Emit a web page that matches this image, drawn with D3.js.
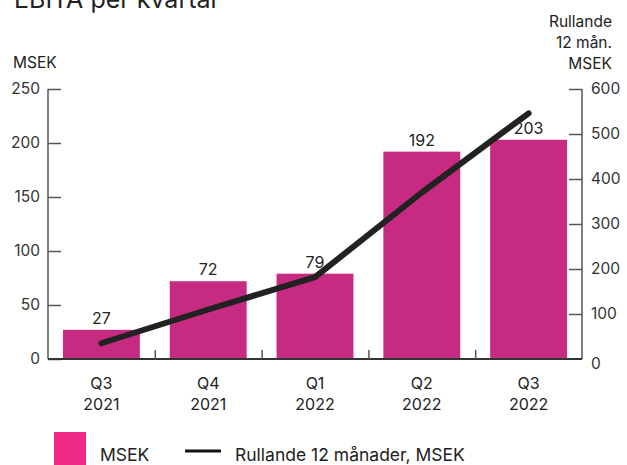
<!DOCTYPE html>
<html>
<head>
<meta charset="utf-8">
<script src="https://cdn.jsdelivr.net/npm/d3@7"></script>
<style>
  body { margin: 0; background: #fff; }
  svg text { font-family: Inter, "Open Sans", sans-serif; fill: #222; }
</style>
</head>
<body>
<script>
// data
const quarters = ["Q3", "Q4", "Q1", "Q2", "Q3"];
const years = ["2021", "2021", "2022", "2022", "2022"];
const ebita = [27, 72, 79, 192, 203];
const rolling = [35, 110, 182, 370, 546];
const leftTicks = [0, 50, 100, 150, 200, 250];
const rightTicks = [0, 100, 200, 300, 400, 500, 600];

const W = 627, H = 465;
const margin = { top: 89, right: 45, bottom: 106, left: 48 };
const width = W - margin.left - margin.right,
    height = H - margin.top - margin.bottom;

const svg = d3.select("body").append("svg")
    .attr("width", W)
    .attr("height", H);

// title, cut off at the top like in the source
svg.append("text")
    .attr("x", 14)
    .attr("y", 8)
    .style("font-size", "25px")
    .text("EBITA per kvartal");

svg.append("text")
    .attr("x", 13)
    .attr("y", 68)
    .style("font-size", "15.5px")
    .text("MSEK");

// right axis title
const rt = svg.append("text")
    .attr("text-anchor", "end")
    .style("font-size", "15.5px");
["Rullande", "12 mån.", "MSEK"].forEach((t, i) => {
    rt.append("tspan").attr("x", 612).attr("y", 27 + i * 21).text(t);
});

const g = svg.append("g")
    .attr("transform", "translate(" + margin.left + "," + margin.top + ")");

const idx = d3.range(quarters.length);

const x = d3.scaleBand()
    .domain(idx)
    .range([0, width])
    .paddingInner(0.28)
    .paddingOuter(0.14);

const band = d3.scaleBand().domain(idx).range([0, width]);

const y = d3.scaleLinear().domain([0, 250]).range([height, 0]);
const y2 = d3.scaleLinear().domain([0, 600]).range([height, 0]);

// bars
g.selectAll("rect.bar")
    .data(ebita)
    .enter()
    .append("rect")
    .attr("class", "bar")
    .attr("x", (d, i) => x(i))
    .attr("y", d => y(d))
    .attr("width", x.bandwidth())
    .attr("height", d => height - y(d))
    .attr("fill", "#c72b81");

// bar value labels
g.selectAll("text.val")
    .data(ebita)
    .enter()
    .append("text")
    .attr("class", "val")
    .attr("x", (d, i) => x(i) + x.bandwidth() / 2)
    .attr("y", d => y(d) - 6)
    .attr("text-anchor", "middle")
    .style("font-size", "16px")
    .text(d => d);

// left axis
const yAxis = g.append("g")
    .call(d3.axisRight(y).tickValues(leftTicks).tickSize(13).tickFormat(""));
yAxis.select(".domain").attr("stroke", "#555").attr("stroke-width", 1.5).attr("d", "M0," + height + "V0");
yAxis.selectAll(".tick line").attr("stroke", "#555").attr("stroke-width", 1.5);

g.selectAll("text.yl")
    .data(leftTicks)
    .enter()
    .append("text")
    .attr("class", "yl")
    .attr("x", -8)
    .attr("y", d => y(d) + 5)
    .attr("text-anchor", "end")
    .style("font-size", "15.5px")
    .style("fill", "#333")
    .text(d => d);

// right axis
const y2Axis = g.append("g")
    .attr("transform", "translate(" + width + ",0)")
    .call(d3.axisLeft(y2).tickValues(rightTicks).tickSize(13).tickFormat(""));
y2Axis.select(".domain").attr("stroke", "#555").attr("stroke-width", 1.5).attr("d", "M0," + height + "V0");
y2Axis.selectAll(".tick line").attr("stroke", "#555").attr("stroke-width", 1.5);
y2Axis.selectAll(".tick").filter(d => d === 0).remove();

g.selectAll("text.y2l")
    .data(rightTicks)
    .enter()
    .append("text")
    .attr("class", "y2l")
    .attr("x", width + 9)
    .attr("y", d => y2(d) + (d === 0 ? 10 : 5))
    .style("font-size", "15.5px")
    .style("fill", "#333")
    .text(d => d);

// bottom axis, ticks at category boundaries
const xAxis = g.append("g")
    .attr("transform", "translate(0," + height + ")")
    .call(d3.axisTop(d3.scaleLinear().domain([0, 5]).range([0, width]))
        .tickValues([1, 2, 3, 4]).tickSize(9).tickFormat(""));
xAxis.select(".domain").attr("stroke", "#333").attr("stroke-width", 2).attr("d", "M0,0H" + width);
xAxis.selectAll(".tick line").attr("stroke", "#555").attr("stroke-width", 1.5);

const xl = g.selectAll("text.xl")
    .data(idx)
    .enter()
    .append("text")
    .attr("class", "xl")
    .attr("text-anchor", "middle")
    .style("font-size", "16px");
xl.append("tspan")
    .attr("x", i => band(i) + band.bandwidth() / 2)
    .attr("y", height + 30)
    .text(i => quarters[i]);
xl.append("tspan")
    .attr("x", i => band(i) + band.bandwidth() / 2)
    .attr("y", height + 51)
    .text(i => years[i]);

// rolling 12 months line
const line = d3.line()
    .x((d, i) => band(i) + band.bandwidth() / 2)
    .y(d => y2(d));

g.append("path")
    .datum(rolling)
    .attr("d", line)
    .attr("fill", "none")
    .attr("stroke", "#222")
    .attr("stroke-width", 6)
    .attr("stroke-linecap", "round")
    .attr("stroke-linejoin", "round");

// legend
const lg = svg.append("g");
lg.append("rect")
    .attr("x", 54).attr("y", 432)
    .attr("width", 32).attr("height", 40)
    .attr("fill", "#ee2a84");
lg.append("text")
    .attr("x", 100).attr("y", 461)
    .style("font-size", "17.5px")
    .text("MSEK");
lg.append("line")
    .attr("x1", 185).attr("x2", 221)
    .attr("y1", 451).attr("y2", 451)
    .attr("stroke", "#111")
    .attr("stroke-width", 3);
lg.append("text")
    .attr("x", 235).attr("y", 461)
    .style("font-size", "17.5px")
    .text("Rullande 12 månader, MSEK");
</script>
</body>
</html>
